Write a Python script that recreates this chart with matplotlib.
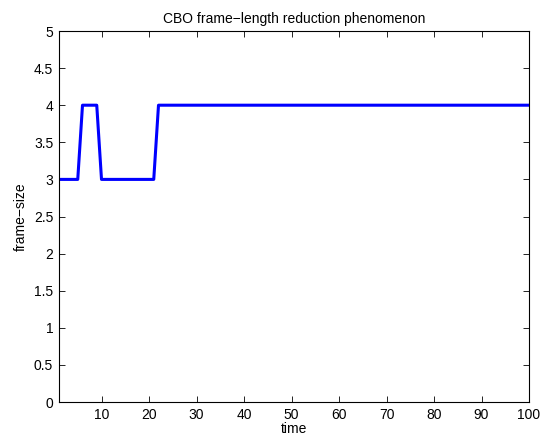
import matplotlib
matplotlib.use("Agg")
import matplotlib.pyplot as plt

# change points of the frame size over time
time = [1, 5, 6, 9, 10, 21, 22, 100]
frame_size = [3, 3, 4, 4, 3, 3, 4, 4]

XTICKS = [10, 20, 30, 40, 50, 60, 70, 80, 90, 100]
YTICKS = [0, 0.5, 1, 1.5, 2, 2.5, 3, 3.5, 4, 4.5, 5]

plt.rcParams["font.family"] = ["Liberation Sans", "DejaVu Sans"]

fig = plt.figure(figsize=(5.45, 4.43), dpi=100)
ax = fig.add_axes([58.75 / 545, 1 - 402 / 443, (529 - 58.75) / 545, (402 - 31) / 443])
ax.plot(time, frame_size, color="#0000ff", lw=2.2)

ax.set_xlim(1, 100)
ax.set_ylim(0, 5)
ax.set_xticks(XTICKS)
ax.set_yticks(YTICKS)
ax.set_yticklabels([f"{v:g}" for v in YTICKS])
ax.tick_params(direction="in", top=True, right=True, length=4, width=0.6,
               labelsize=10, pad=4)
for s in ax.spines.values():
    s.set_linewidth(0.8)

ax.set_xlabel("time", fontsize=10, labelpad=0)
ax.set_ylabel("frame\u2212size", fontsize=10, labelpad=4)
ax.set_title("CBO frame\u2212length reduction phenomenon", fontsize=10, pad=6)

fig.savefig("out.png", dpi=100)
